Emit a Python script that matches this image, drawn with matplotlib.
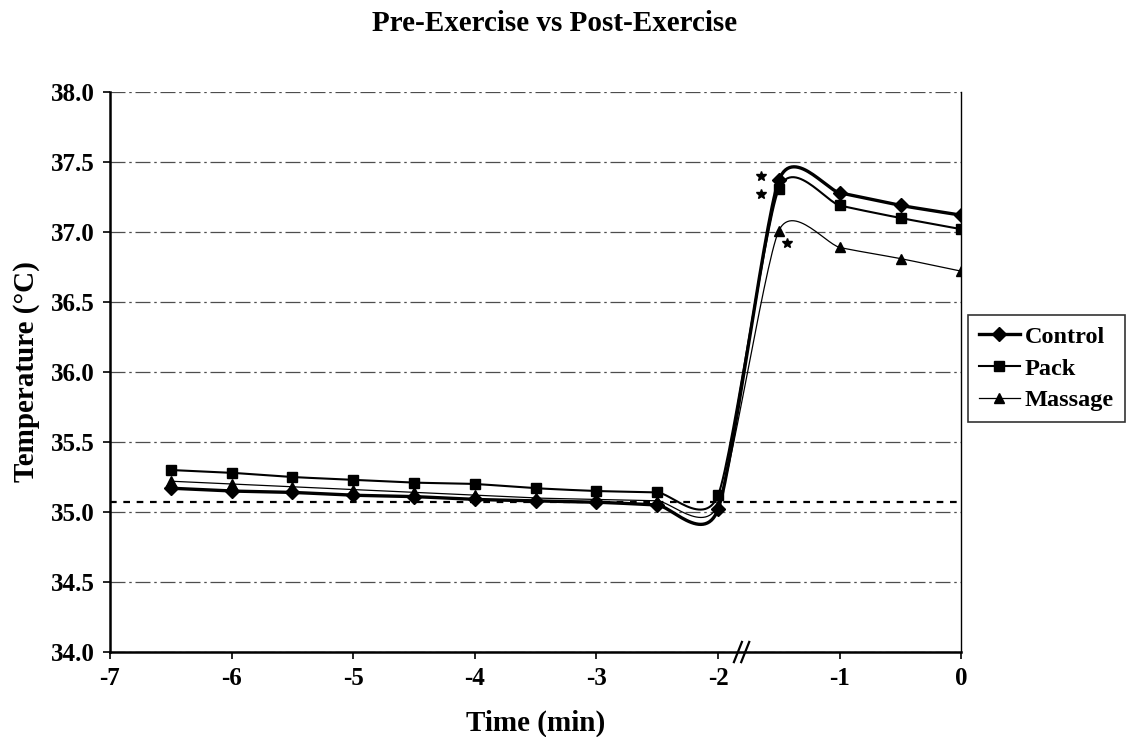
import numpy as np
import matplotlib
matplotlib.use('Agg')
import matplotlib.pyplot as plt
from matplotlib.lines import Line2D


plt.rcParams['font.family'] = 'Liberation Serif'
plt.rcParams['font.weight'] = 'bold'
plt.rcParams['axes.unicode_minus'] = False

# Data
time = [-6.5, -6, -5.5, -5, -4.5, -4, -3.5, -3, -2.5, -2, -1.5, -1, -0.5, 0]
control = [35.17, 35.15, 35.14, 35.12, 35.11, 35.09, 35.08, 35.07, 35.05, 35.02,
           37.37, 37.28, 37.19, 37.12]
pack = [35.30, 35.28, 35.25, 35.23, 35.21, 35.20, 35.17, 35.15, 35.14, 35.12,
        37.31, 37.19, 37.10, 37.02]
massage = [35.22, 35.20, 35.18, 35.16, 35.14, 35.12, 35.10, 35.09, 35.08, 35.05,
           37.01, 36.89, 36.81, 36.72]
baseline = 35.07
star_x = [-1.65, -1.65, -1.43]
star_y = [37.40, 37.27, 36.92]


def smooth(x, y, n=30, k=9.0):
    # Excel-like smoothed line: cardinal spline segments as cubic Beziers
    x = np.asarray(x, float)
    y = np.asarray(y, float)
    px = np.concatenate([[x[0]], x, [x[-1]]])
    py = np.concatenate([[y[0]], y, [y[-1]]])
    t = np.linspace(0, 1, n)[:, None]
    out = []
    for i in range(1, len(px) - 2):
        p0 = np.array([px[i], py[i]])
        p3 = np.array([px[i + 1], py[i + 1]])
        c1 = p0 + (p3 - np.array([px[i - 1], py[i - 1]])) / k
        c2 = p3 - (np.array([px[i + 2], py[i + 2]]) - p0) / k
        seg = ((1 - t) ** 3) * p0 + 3 * ((1 - t) ** 2) * t * c1 \
            + 3 * (1 - t) * t ** 2 * c2 + t ** 3 * p3
        out.append(seg)
    pts = np.vstack(out)
    return pts[:, 0], pts[:, 1]


fig = plt.figure(figsize=(11.27, 7.37), dpi=100)
ax = fig.add_axes([0.0976, 0.1153, 0.7554, 0.7599])

series = [
    ('Control', control, 'D', 2.4, 7),
    ('Pack', pack, 's', 1.5, 7),
    ('Massage', massage, '^', 0.9, 7),
]

handles = []
for name, vals, mk, lw, ms in series:
    sx, sy = smooth(time, vals)
    ax.plot(sx, sy, color='black', lw=lw, zorder=3)
    ax.plot(time, vals, linestyle='none', marker=mk, color='black', ms=ms, zorder=4)
    handles.append(Line2D([], [], color='black', lw=lw, marker=mk, ms=ms, label=name))

ax.axhline(baseline, color='black', lw=1.6, linestyle=(0, (3, 3)), zorder=2)
ax.plot(star_x, star_y, linestyle='none', marker='*', color='black', ms=7, zorder=4)

ax.set_xlim(-7, 0)
ax.set_ylim(34, 38)
ax.set_xticks(range(-7, 1))
ax.set_yticks(np.arange(34, 38.01, 0.5))
ax.yaxis.set_major_formatter(matplotlib.ticker.FormatStrFormatter('%.1f'))
ax.grid(axis='y', color='0.3', lw=0.9, linestyle=(0, (12, 3, 2, 3)))
ax.set_axisbelow(True)
ax.tick_params(direction='out', length=5, width=1.2, labelsize=18, pad=6)
for lbl in ax.get_xticklabels() + ax.get_yticklabels():
    lbl.set_fontweight('bold')

ax.spines['top'].set_visible(False)
ax.spines['left'].set_linewidth(1.8)
ax.spines['bottom'].set_linewidth(1.8)
ax.spines['right'].set_linewidth(1.0)

# axis break marks
tr = ax.get_xaxis_transform()
for bx in (-1.87, -1.81):
    ax.plot([bx, bx + 0.066], [-0.018, 0.018], color='black', lw=1.6,
            transform=tr, clip_on=False, zorder=5)

ax.set_xlabel('Time (min)', fontsize=21, fontweight='bold', labelpad=14)
ax.set_ylabel('Temperature (°C)', fontsize=21, fontweight='bold', labelpad=8)
fig.text(0.492, 0.968, 'Pre-Exercise vs Post-Exercise', ha='center', va='center',
         fontsize=21, fontweight='bold')

leg = fig.legend(handles=handles, loc='upper right', bbox_to_anchor=(0.998, 0.5726),
                 frameon=True, fancybox=False, fontsize=17.5, handlelength=1.7,
                 borderpad=0.45, labelspacing=0.4, handletextpad=0.2,
                 borderaxespad=0)
leg.get_frame().set_edgecolor('black')
leg.get_frame().set_linewidth(1.2)

fig.savefig('out.png', dpi=100)
